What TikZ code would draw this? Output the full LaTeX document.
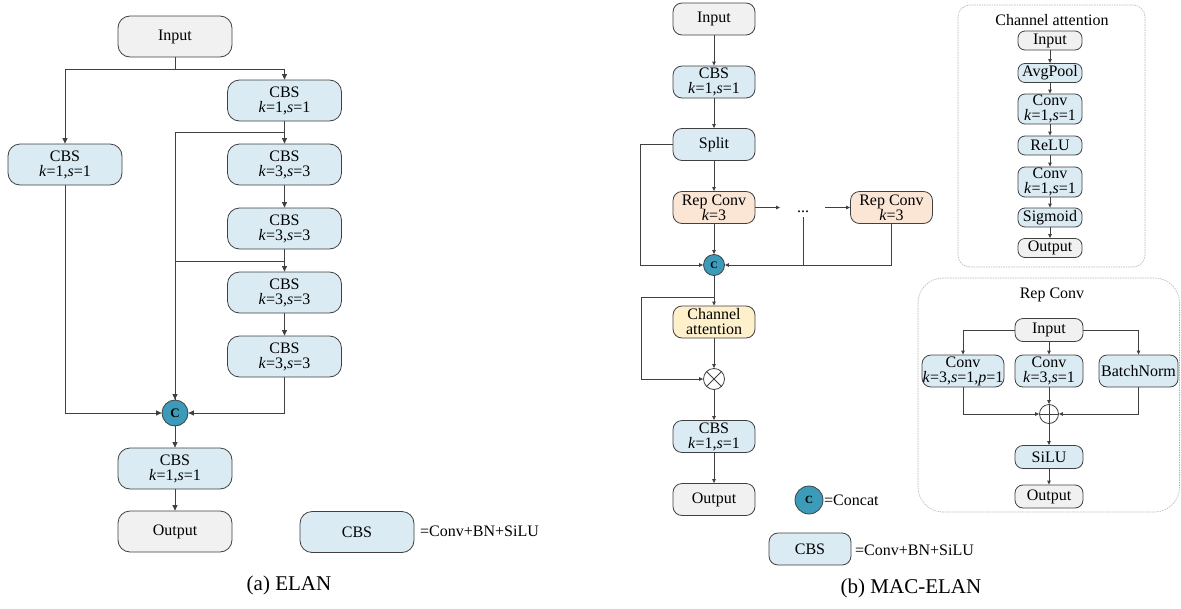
\documentclass[tikz,border=0pt]{standalone}
\usepackage{fontspec}
\setmainfont{Liberation Serif}
\usetikzlibrary{arrows.meta}
\definecolor{cbsblue}{RGB}{218,235,243}
\definecolor{boxgrey}{RGB}{241,241,241}
\definecolor{repcol}{RGB}{251,230,214}
\definecolor{attcol}{RGB}{255,240,204}
\definecolor{concol}{RGB}{59,155,185}
\definecolor{linegrey}{RGB}{64,64,64}
\newcommand{\kpar}[2]{\textit{k}=#1,\textit{s}=#2}
\tikzset{
  blk/.style={draw=linegrey, line width=0.8pt, fill=cbsblue, align=center, inner sep=0pt, font=\fontsize{16}{15}\selectfont},
  big/.style={minimum width=114pt, minimum height=41pt, rounded corners=12pt},
  mid/.style={minimum width=82pt, minimum height=32pt, rounded corners=9pt},
  sml/.style={minimum width=64pt, minimum height=19pt, rounded corners=7pt},
  rc/.style={minimum width=68pt, minimum height=23pt, rounded corners=8pt},
  cat/.style={circle, draw=linegrey, fill=concol, line width=0.8pt, inner sep=0pt, font=\bfseries\fontsize{11}{11}\selectfont},
  op/.style={circle, draw=linegrey, line width=0.8pt, fill=white, inner sep=0pt},
  lbl/.style={font=\fontsize{16}{18}\selectfont, inner sep=0pt},
  capt/.style={font=\fontsize{21}{24}\selectfont, inner sep=0pt},
  panel/.style={draw=gray!60, dash pattern=on 1.5pt off 1pt, line width=0.6pt},
  ln/.style={linegrey, line width=0.8pt},
  ar/.style={ln, -{Triangle[length=5.5pt,width=5pt]}},
  sar/.style={ln, -{Triangle[length=4pt,width=3.5pt]}}
}
\begin{document}
\begin{tikzpicture}[x=1pt, y=-1pt]
\useasboundingbox (0,0) rectangle (1181,608);
\node[blk, big, fill=boxgrey] (inA) at (175,36.5) {Input};
\node[blk, big] (a1) at (284.5,100.5) {CBS\\\kpar{1}{1}};
\node[blk, big] (a0) at (65,164.5) {CBS\\\kpar{1}{1}};
\node[blk, big] (a2) at (284.5,164.5) {CBS\\\kpar{3}{3}};
\node[blk, big] (a3) at (284.5,228.5) {CBS\\\kpar{3}{3}};
\node[blk, big] (a4) at (284.5,292.5) {CBS\\\kpar{3}{3}};
\node[blk, big] (a5) at (284.5,356.5) {CBS\\\kpar{3}{3}};
\node[cat, minimum size=26pt, font=\bfseries\fontsize{13}{13}\selectfont] (catA) at (175,413) {C};
\node[blk, big] (a6) at (175,468.5) {CBS\\\kpar{1}{1}};
\node[blk, big, fill=boxgrey] (outA) at (175,531.5) {Output};
\node[blk, big] (keyA) at (357,532) {CBS};
\node[lbl, anchor=west] (keyAt) at (420,531) {=Conv+BN+SiLU};
\node[capt] (capA) at (289,585) {(a) ELAN};
\draw[ar] (inA.south) -- ++(0,12) -| (a0.north);
\draw[ar] (inA.south) -- ++(0,12) -| (a1.north);
\draw[ar] (a1.south) -- ++(0,11) -| (catA.north);
\draw[ln] (a3.south) -- ++(0,12) -| (catA.north);
\draw[ar] (a0.south) |- (catA.west);
\draw[ar] (a5.south) |- (catA.east);
\foreach \u/\v in {a1/a2,a2/a3,a3/a4,a4/a5,catA/a6,a6/outA}
  \draw[ar] (\u) -- (\v);

\node[blk, mid, fill=boxgrey] (inB) at (714,19) {Input};
\node[blk, mid] (b1) at (714,82) {CBS\\\kpar{1}{1}};
\node[blk, mid] (split) at (714,144.5) {Split};
\node[blk, mid, fill=repcol] (rep1) at (714,207.5) {Rep Conv\\\textit{k}=3};
\node[lbl, anchor=base] (dots) at (803,212) {...};
\node[blk, mid, fill=repcol] (rep2) at (891.5,207.5) {Rep Conv\\\textit{k}=3};
\node[cat, minimum size=21pt, font=\bfseries\fontsize{10}{10}\selectfont] (catB) at (714,265) {C};
\node[blk, mid, fill=attcol] (att) at (714,322) {Channel\\attention};
\node[op, minimum size=21pt] (mul) at (714,379) {};
\draw[ln] (mul.45) -- (mul.225) (mul.135) -- (mul.315);
\node[blk, mid] (b2) at (714,436.5) {CBS\\\kpar{1}{1}};
\node[blk, mid, fill=boxgrey] (outB) at (714,499.5) {Output};
\node[cat, minimum size=28pt] (keyC) at (809,500) {C};
\node[lbl, anchor=west] (keyCt) at (824,500) {=Concat};
\node[blk, mid] (keyB) at (810,549) {CBS};
\node[lbl, anchor=west] (keyBt) at (855,550) {=Conv+BN+SiLU};
\node[capt] (capB) at (911,588) {(b) MAC-ELAN};
\coordinate (d1) at (780,207.5);
\coordinate (d2) at (825,207.5);
\coordinate (d3) at (803,217);
\coordinate (lb) at (641,379);
\draw[sar] (rep1) -- (d1);
\draw[sar] (d2) -- (rep2);
\draw[sar] (split.west) -- ++(-32,0) |- (catB.west);
\draw[sar] (rep2.south) |- (catB.east);
\draw[ln] (d3) -- (d3 |- catB.east);
\draw[sar] (catB.south) -- ++(0,21) -| (lb) -- (mul.west);
\foreach \u/\v in {inB/b1,b1/split,split/rep1,rep1/catB,catB/att,att/mul,mul/b2,b2/outB}
  \draw[sar] (\u) -- (\v);

\draw[panel, rounded corners=12pt] (958,5) rectangle (1145,267);
\node[lbl] (catitle) at (1052,20) {Channel attention};
\node[blk, sml, fill=boxgrey] (c0) at (1050,40.5) {Input};
\node[blk, sml] (c1) at (1050,73) {AvgPool};
\node[blk, sml, minimum height=30pt] (c2) at (1050,109) {Conv\\\kpar{1}{1}};
\node[blk, sml] (c3) at (1050,145.5) {ReLU};
\node[blk, sml, minimum height=30pt] (c4) at (1050,182) {Conv\\\kpar{1}{1}};
\node[blk, sml] (c5) at (1050,217.5) {Sigmoid};
\node[blk, sml, fill=boxgrey] (c6) at (1050,248) {Output};
\foreach \u/\v in {c0/c1,c1/c2,c2/c3,c3/c4,c4/c5,c5/c6}
  \draw[sar] (\u) -- (\v);

\draw[panel, rounded corners=25pt] (918,278) rectangle (1179.5,512);
\node[lbl] (rctitle) at (1052,295) {Rep Conv};
\node[blk, rc, fill=boxgrey] (r0) at (1049,330) {Input};
\node[blk, mid] (r1) at (963,371) {Conv\\\textit{k}=3,\textit{s}=1,\textit{p}=1};
\node[blk, rc, minimum height=32pt] (r2) at (1049,371) {Conv\\\kpar{3}{1}};
\node[blk, rc, minimum width=79pt, minimum height=32pt] (r3) at (1138.5,371) {BatchNorm};
\node[op, minimum size=19pt] (add) at (1049,414) {};
\draw[ln] (add.north) -- (add.south) (add.west) -- (add.east);
\node[blk, rc] (r4) at (1049,457) {SiLU};
\node[blk, rc, fill=boxgrey] (r5) at (1049,496.5) {Output};
\draw[sar] (r0.west) -| (r1.north);
\draw[sar] (r0.east) -| (r3.north);
\draw[sar] (r1.south) |- (add.west);
\draw[sar] (r3.south) |- (add.east);
\foreach \u/\v in {r0/r2,r2/add,add/r4,r4/r5}
  \draw[sar] (\u) -- (\v);
\end{tikzpicture}
\end{document}
